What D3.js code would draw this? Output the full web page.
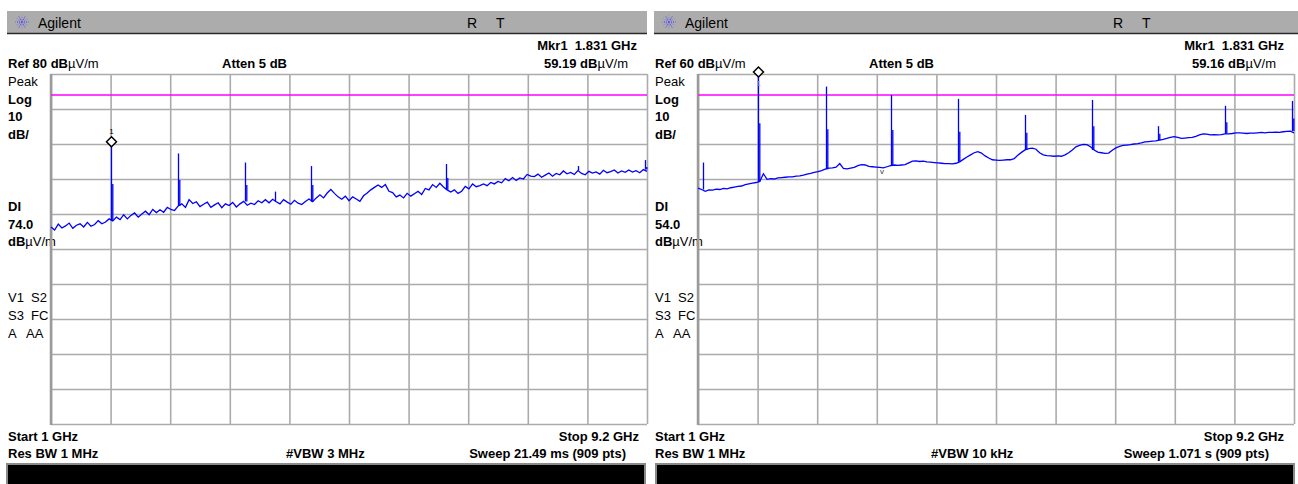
<!DOCTYPE html>
<html><head><meta charset="utf-8">
<script src="https://cdn.jsdelivr.net/npm/d3@7"></script>
<style>
body{margin:0;background:#fff;}
svg text{font-family:"Liberation Sans",Arial,sans-serif;white-space:pre;}
</style></head><body><svg id="c" width="1298" height="484"></svg>
<script>
// ---- data ----
const startGHz = 1, stopGHz = 9.2;
const gridDivs = 10;
const leftTrace = [36.3,35.4,37.1,36.0,36.6,37.4,35.9,36.8,37.2,36.3,
 37.6,36.5,37.0,38.1,37.2,37.7,38.6,38.0,39.1,38.4,
 39.8,38.6,39.6,40.3,39.1,40.0,40.8,39.8,41.3,40.4,
 41.2,40.5,41.9,41.3,41.0,42.3,42.9,41.9,44.1,43.0,
 43.5,42.1,42.8,43.4,41.9,42.6,43.2,41.8,42.9,42.4,
 43.3,42.0,42.9,43.6,42.5,43.1,42.7,43.8,43.2,44.1,
 43.2,44.2,43.5,42.9,44.1,43.4,42.8,43.9,43.1,42.7,
 43.6,44.3,43.5,44.6,45.5,44.6,46.0,47.0,45.9,44.9,
 44.2,45.1,43.8,44.9,44.3,43.6,45.2,46.0,46.9,47.6,
 48.3,47.6,48.4,46.5,46.1,44.9,45.4,44.6,45.9,45.1,
 45.8,46.5,45.6,47.3,46.9,48.4,47.6,48.8,47.7,46.9,
 46.3,46.9,45.9,46.5,47.9,47.2,48.6,47.8,48.1,48.6,
 48.1,49.0,48.6,49.3,48.9,50.1,49.5,50.4,49.6,50.3,
 50.0,51.3,50.8,50.7,51.4,50.5,51.1,51.7,50.8,51.6,
 51.2,52.3,51.5,51.9,51.3,52.4,51.6,51.2,52.2,51.7,
 52.0,51.4,52.5,51.8,52.1,52.6,51.7,52.3,51.9,52.6,
 52.0,52.4,51.8,52.7,52.2];
const rightTrace = [27.4,27.0,26.5,26.9,26.8,27.1,27.0,27.3,27.2,27.5,
 27.7,27.9,28.0,28.4,28.6,28.8,29.0,29.3,31.5,29.9,
 30.1,30.0,30.3,30.4,30.5,30.6,30.6,30.8,30.9,31.1,
 31.4,31.6,31.9,32.1,32.4,32.8,33.1,33.2,33.4,34.4,
 33.0,32.9,33.1,33.3,33.8,34.1,34.0,33.6,33.5,33.4,
 33.3,33.2,33.5,33.8,34.0,33.9,34.0,34.1,34.6,35.1,
 35.2,35.0,35.1,34.9,34.8,34.7,34.6,34.5,34.4,34.4,
 34.3,34.5,34.9,35.6,36.3,36.9,37.5,37.8,37.4,36.6,
 36.0,35.5,35.4,35.3,35.4,35.5,35.5,35.8,36.8,37.6,
 38.3,38.7,38.8,38.5,37.5,36.9,36.7,36.6,36.5,36.6,
 36.5,36.9,37.5,38.3,39.2,39.6,39.9,39.8,39.2,38.3,
 37.7,37.5,37.3,37.4,38.2,38.9,39.3,39.6,39.7,39.8,
 40.0,40.1,40.3,40.6,40.7,40.8,40.9,41.1,41.3,41.6,
 41.9,42.1,41.9,41.6,41.7,41.8,41.9,42.2,42.6,42.9,
 42.8,42.6,42.7,42.6,42.7,42.9,42.9,43.0,43.2,43.2,
 43.1,43.0,43.1,43.1,43.2,43.3,43.2,43.3,43.3,43.4,
 43.3,43.5,43.6,43.7,43.2];
const leftSpikeFreqs  = [1.831, 2.747, 3.669, 4.080, 4.577, 6.435, 8.255, 9.173];
const leftSpikePeaks  = [59.19, 57.3, 54.7, 46.4, 53.7, 54.3, 53.7, 55.4];
const leftSpikeSecond = [48.6, 49.7, 48.3, null, 48.3, 50.3, null, 53.4];
const rightSpikeFreqs  = [1.073, 1.831, 2.757, 3.660, 4.581, 5.503, 6.425, 7.333, 8.255, 9.169];
const rightSpikePeaks  = [34.7, 59.16, 56.4, 54.0, 52.9, 48.3, 52.6, 45.1, 50.9, 52.3];
const rightSpikeSecond = [null, 45.9, 44.2, 44.0, 43.5, 43.2, 45.1, 42.9, 46.2, 47.3];
const markerFreq = 1.831;
const markerLevels = [59.19, 59.16];
const refLevels = [80, 60];
const displayLines = [74.0, 54.0];
const markerTexts = ["59.19", "59.16"];
const vbwTexts = ["#VBW 3 MHz", "#VBW 10 kHz"];
const sweepTexts = ["Sweep 21.49 ms (909 pts)", "Sweep 1.071 s (909 pts)"];

// ---- drawing ----
const svg = d3.select("#c");
const layouts = [
  {gx0:51, gx1:647, barX0:7, barX1:647, tx:8, R:467, T:496, mkrR:637, valR:628, atten:222, vbw:286, swR:626, stopR:639, blackX0:7, blackX1:645},
  {gx0:698, gx1:1294, barX0:654, barX1:1298, tx:655, R:1113, T:1142, mkrR:1284, valR:1276, atten:869, vbw:931, swR:1269, stopR:1284, blackX0:656, blackX1:1294}
];
const gy0 = 74, gy1 = 424;
const traces = [leftTrace, rightTrace];
const spikes = [[leftSpikeFreqs, leftSpikePeaks, leftSpikeSecond],[rightSpikeFreqs, rightSpikePeaks, rightSpikeSecond]];

function txt(g, x, y, parts, anchor, size){
  const t = g.append("text").attr("x", x).attr("y", y).attr("text-anchor", anchor || "start")
    .attr("font-size", size || 13).attr("fill", "#000");
  parts.forEach(p => t.append("tspan").text(p[0]).attr("font-weight", p[1] ? "bold" : "normal"));
  return t;
}

layouts.forEach((L, k) => {
  const g = svg.append("g");
  const ref = refLevels[k];
  const x = d3.scaleLinear().domain([startGHz, stopGHz]).range([L.gx0, L.gx1]);
  const y = d3.scaleLinear().domain([ref - 100, ref]).range([gy1, gy0]);

  // header bar
  g.append("rect").attr("x", L.barX0).attr("y", 11).attr("width", L.barX1 - L.barX0).attr("height", 22).attr("fill", "#acacac");
  g.append("line").attr("x1", L.barX0).attr("x2", L.barX1).attr("y1", 33.5).attr("y2", 33.5).attr("stroke", "#2a2a2a").attr("stroke-width", 1.5);
  const cx = L.barX0 + 15, cy = 22;
  const logo = g.append("g");
  d3.range(12).forEach(i => {
    const a = i * Math.PI / 6;
    logo.append("line").attr("x1", cx).attr("y1", cy)
      .attr("x2", cx + 6.5 * Math.cos(a)).attr("y2", cy + 6.5 * Math.sin(a))
      .attr("stroke", i % 2 ? "#8c6ee0" : "#2f3cff").attr("stroke-width", 1).attr("stroke-dasharray", "1,1");
  });
  txt(g, L.barX0 + 31, 28, [["Agilent", false]], "start", 14);
  txt(g, L.R, 28, [["R", false]], "start", 14);
  txt(g, L.T, 28, [["T", false]], "start", 14);

  // top annotations
  txt(g, L.mkrR, 50, [["Mkr1  1.831 GHz", true]], "end");
  txt(g, L.tx, 68, [["Ref " + ref + " ", true], ["dB", true], ["\u00b5V/m", false]]);
  txt(g, L.atten, 68, [["Atten 5 dB", true]]);
  txt(g, L.valR, 68, [[markerTexts[k] + " dB", true], ["\u00b5V/m", false]], "end");

  // left side labels
  txt(g, L.tx, 86, [["Peak", false]]);
  txt(g, L.tx, 104, [["Log", true]]);
  txt(g, L.tx, 121, [["10", true]]);
  txt(g, L.tx, 139, [["dB/", true]]);
  txt(g, L.tx, 211, [["DI", true]]);
  txt(g, L.tx, 229, [[displayLines[k].toFixed(1), true]]);
  txt(g, L.tx, 246, [["dB", true], ["\u00b5V/m", false]]);
  txt(g, L.tx, 302, [["V1  S2", false]]);
  txt(g, L.tx, 320, [["S3  FC", false]]);
  txt(g, L.tx, 338, [["A   AA", false]]);

  // bottom annotations
  txt(g, L.tx, 441, [["Start " + startGHz + " GHz", true]]);
  txt(g, L.stopR, 441, [["Stop " + stopGHz + " GHz", true]], "end");
  txt(g, L.tx, 458, [["Res BW 1 MHz", true]]);
  txt(g, L.vbw, 458, [[vbwTexts[k], true]]);
  txt(g, L.swR, 458, [[sweepTexts[k], true]], "end");

  // black status bar
  g.append("rect").attr("x", L.blackX0).attr("y", 464).attr("width", L.blackX1 - L.blackX0).attr("height", 24)
    .attr("fill", "#000").attr("stroke", "#8a8a8a").attr("stroke-width", 2);

  // grid
  const xt = d3.range(gridDivs + 1).map(i => startGHz + i * (stopGHz - startGHz) / gridDivs);
  const yt = d3.range(gridDivs + 1).map(i => ref - 10 * i);
  const gx = g.append("g").attr("transform", `translate(0,${gy1})`)
    .call(d3.axisBottom(x).tickValues(xt).tickSize(-(gy1 - gy0)).tickFormat(""));
  const gyA = g.append("g").attr("transform", `translate(${L.gx0},0)`)
    .call(d3.axisLeft(y).tickValues(yt).tickSize(-(L.gx1 - L.gx0)).tickFormat(""));
  [gx, gyA].forEach(a => {
    a.select(".domain").remove();
    a.selectAll("line").attr("stroke", "#ababab").attr("stroke-width", 1.6);
  });
  g.append("line").attr("x1", L.gx0).attr("x2", L.gx0).attr("y1", gy0).attr("y2", gy1 + 1).attr("stroke", "#9a9a9a").attr("stroke-width", 2.5);

  // display line
  g.append("line").attr("x1", L.gx0).attr("x2", L.gx1).attr("y1", y(displayLines[k])).attr("y2", y(displayLines[k]))
    .attr("stroke", "#ff00ff").attr("stroke-width", 1.5);

  // trace
  const tr = traces[k];
  const n = tr.length;
  const freqs = d3.range(n).map(i => startGHz + i * (stopGHz - startGHz) / (n - 1));
  const line = d3.line().x((d, i) => x(freqs[i])).y(d => y(d)).curve(d3.curveLinear);
  g.append("path").attr("d", line(tr)).attr("fill", "none").attr("stroke", "#0000ff").attr("stroke-width", 1.3);

  // spikes
  const [sf, sp, ss] = spikes[k];
  sf.forEach((f, j) => {
    const idx = Math.round((f - startGHz) / (stopGHz - startGHz) * (n - 1));
    const base = tr[idx];
    const xx = Math.round(x(f)) + 0.5;
    g.append("line").attr("x1", xx).attr("x2", xx).attr("y1", y(base)).attr("y2", y(sp[j]))
      .attr("stroke", "#0000ff").attr("stroke-width", 1.3);
    if (ss[j] != null) {
      g.append("line").attr("x1", xx + 1.3).attr("x2", xx + 1.3).attr("y1", y(base)).attr("y2", y(ss[j]))
        .attr("stroke", "#0000ff").attr("stroke-width", 1.3);
    }
  });

  // marker
  const mx = Math.round(x(markerFreq)) + 0.5, my = y(markerLevels[k]);
  const s = 5;
  g.append("path").attr("d", `M${mx},${my} L${mx + s},${my - s} L${mx},${my - 2 * s} L${mx - s},${my - s} Z`)
    .attr("fill", "#fff").attr("stroke", "#000").attr("stroke-width", 1.5);
  const labelY = (my - 2 * s - 4 < gy0) ? my + 9 : my - 2 * s - 3;
  g.append("text").attr("x", mx).attr("y", labelY).attr("text-anchor", "middle").attr("font-size", 8)
    .attr("fill", k === 1 ? "#8080ff" : "#000").text("1");
});
{
  const x = d3.scaleLinear().domain([startGHz, stopGHz]).range([698, 1294]);
  const y = d3.scaleLinear().domain([refLevels[1] - 100, refLevels[1]]).range([gy1, gy0]);
  svg.append("text").attr("x", x(3.53)).attr("y", y(31.4)).attr("text-anchor", "middle")
    .attr("font-size", 8).attr("fill", "#333").text("v");
}
</script></body></html>
